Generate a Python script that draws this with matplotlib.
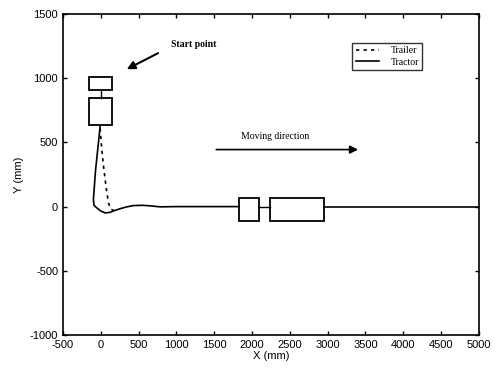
import matplotlib
matplotlib.use("Agg")
import matplotlib.pyplot as plt
from matplotlib.patches import Rectangle

plt.rcParams["axes.unicode_minus"] = False

# ---------------------------------------------------------------------------
# Data
# ---------------------------------------------------------------------------
tractor_x = [-9, -40, -70, -85, -98, -90, -53, 0, 57, 120, 190, 270, 344, 433, 550, 650, 786, 1000, 1823]
tractor_y = [625, 450, 280, 158, 55, 10, -10, -35, -49, -45, -29, -14, -2, 8, 10, 6, -2, 0, 0]

trailer_x = [-9, 13, 35, 57, 80, 101, 130, 170]
trailer_y = [610, 444, 320, 210, 110, 29, -20, -30]

tail_x = [2950, 5000]
tail_y = [0, 0]

# vehicle boxes: (x0, y0, width, height) in data units
start_trailer_box = (-155, 911, 305, 100)
start_tractor_box = (-155, 638, 305, 211)
end_tractor_box = (1823, -109, 266, 179)
end_trailer_box = (2234, -109, 716, 179)

xticks = [-500, 0, 500, 1000, 1500, 2000, 2500, 3000, 3500, 4000, 4500, 5000]
yticks = [-1000, -500, 0, 500, 1000, 1500]

# ---------------------------------------------------------------------------
# Plot
# ---------------------------------------------------------------------------
fig = plt.figure(figsize=(5.02, 3.70), dpi=100)
ax = fig.add_axes([0.1255, 0.0946, 0.8285, 0.8676])

ax.plot(trailer_x, trailer_y, color="black", linestyle=(0, (2, 2.5)), linewidth=1.2, label="Trailer")
ax.plot(tractor_x, tractor_y, color="black", linestyle="-", linewidth=1.2, label="Tractor")
ax.plot(tail_x, tail_y, color="black", linewidth=1.2)

for (x0, y0, w, h) in [start_trailer_box, start_tractor_box, end_tractor_box, end_trailer_box]:
    ax.add_patch(Rectangle((x0, y0), w, h, fill=False, edgecolor="black", linewidth=1.3))

# hitch links
ax.plot([0, 0], [849, 911], color="black", linewidth=1.0)
ax.plot([2089, 2234], [0, 0], color="black", linewidth=1.0)

serif = "Liberation Serif"
ax.annotate("", xy=(310, 1060), xytext=(790, 1205),
            arrowprops=dict(arrowstyle="-|>", color="black", lw=1.5, mutation_scale=12))
ax.text(1230, 1265, "Start point", fontsize=7, fontweight="bold", family=serif, ha="center", va="center")

ax.annotate("", xy=(3440, 444), xytext=(1490, 444),
            arrowprops=dict(arrowstyle="-|>", color="black", lw=1.2, mutation_scale=12))
ax.text(2310, 545, "Moving direction", fontsize=7, family=serif, ha="center", va="center")

ax.set_xlim(-500, 5000)
ax.set_ylim(-1000, 1500)
ax.set_xticks(xticks)
ax.set_yticks(yticks)
ax.tick_params(direction="in", length=3, labelsize=8, width=1,
               top=True, right=True)
for lab in ax.get_xticklabels() + ax.get_yticklabels():
    lab.set_family("Liberation Sans")
for s in ax.spines.values():
    s.set_linewidth(1.2)

ax.set_xlabel("X (mm)", fontsize=8, family="Liberation Sans", labelpad=1)
ax.set_ylabel("Y (mm)", fontsize=8, family="Liberation Sans", labelpad=4)

leg = ax.legend(loc="upper right", bbox_to_anchor=(0.876, 0.925), prop={"family": serif, "size": 7},
                frameon=True, fancybox=False, edgecolor="black", handlelength=2.4,
                borderpad=0.35, labelspacing=0.25, handletextpad=1.2)
leg.get_frame().set_linewidth(1.0)

plt.savefig("out.png", dpi=100)
plt.close()
